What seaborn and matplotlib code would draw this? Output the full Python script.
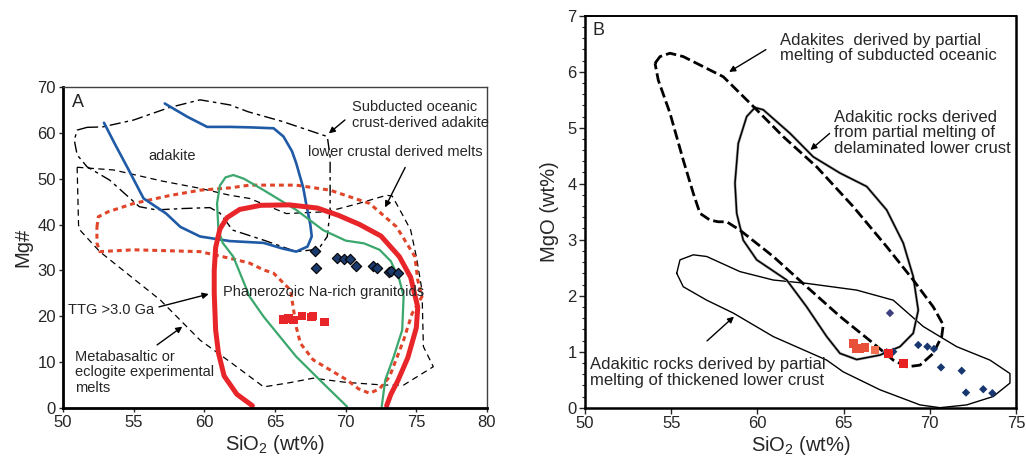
import matplotlib
matplotlib.use('Agg')
import matplotlib.pyplot as plt
import seaborn as sns
import pandas as pd
from matplotlib.ticker import MultipleLocator

####### PANEL A  (SiO2 vs Mg#)

subducted_x = [51.7, 52.8, 55.0, 57.5, 59.7, 61.8, 63.1, 65.5, 68.7, 68.9, 68.9, 68.7, 68.2, 67.7, 66.5,
               64.2, 63.1, 62.0, 61.1, 60.4, 58.5, 56.6, 55.4, 53.3, 51.7, 51.0, 50.8, 51.0, 51.7]
subducted_y = [61.2, 61.3, 62.8, 65.5, 67.2, 66.1, 64.6, 62.5, 59.2, 54.8, 43.2, 37.4, 35.2, 34.5, 34.1,
               36.6, 37.7, 38.8, 42.5, 43.7, 43.5, 43.2, 43.9, 49.7, 52.6, 55.2, 58.4, 60.6, 61.2]

adakite_x = [57.2, 58.8, 60.2, 61.8, 63.2, 64.9, 65.6, 66.2, 66.5, 67.0, 67.2, 67.5, 67.6, 67.3, 66.5,
             65.5, 64.2, 61.8, 59.7, 58.3, 57.3, 55.7, 54.6, 53.7, 52.9]
adakite_y = [66.4, 63.5, 61.3, 61.3, 61.2, 61.0, 59.2, 56.0, 53.4, 48.0, 44.6, 40.0, 37.4, 35.2, 34.1,
             34.8, 36.0, 36.4, 37.4, 39.5, 42.4, 45.7, 52.2, 57.4, 62.2]

metabasalt_x = [51.0, 53.6, 57.0, 59.7, 61.8, 63.2, 65.8, 68.7, 70.8, 72.9, 73.3, 74.1, 74.6, 75.0, 75.4,
                75.5, 76.2, 74.1, 72.7, 70.0, 67.7, 66.0, 64.2, 61.8, 59.7, 56.9, 52.6, 51.2, 51.1, 51.0]
metabasalt_y = [52.5, 51.9, 49.5, 47.9, 46.4, 45.7, 42.4, 42.8, 44.5, 46.4, 46.2, 41.7, 38.8, 33.0, 25.7,
                13.4, 9.0, 5.0, 5.0, 5.6, 6.5, 5.5, 4.6, 10.1, 14.8, 23.5, 34.1, 38.8, 39.9, 52.5]

lower_crust_x = [52.4, 52.5, 53.2, 55.0, 57.5, 59.7, 61.8, 63.2, 66.5, 68.9, 71.7, 73.6, 74.9, 75.1, 75.4,
                 74.7, 74.1, 73.1, 72.4, 71.7, 70.9, 70.1, 67.7, 66.8, 66.5, 66.1, 64.9, 64.2, 63.2, 62.3,
                 59.7, 55.0, 52.6, 52.4, 52.4]
lower_crust_y = [39.5, 41.7, 42.8, 44.6, 46.3, 47.5, 48.0, 48.6, 48.6, 47.5, 44.6, 39.5, 33.0, 27.9, 24.3,
                 20.6, 14.8, 6.8, 4.2, 3.2, 4.2, 6.1, 10.5, 14.1, 17.7, 25.7, 29.4, 30.1, 31.6, 32.3,
                 34.1, 34.5, 34.1, 36.0, 39.5]

granitoid_x = [63.4, 62.3, 61.4, 61.0, 60.8, 60.7, 60.7, 60.8, 61.1, 61.6, 62.5, 64.0, 66.0, 68.0, 69.5,
               71.0, 72.5, 73.8, 74.6, 75.1, 75.0, 74.4, 73.7, 73.2, 72.9]
granitoid_y = [0.5, 3.0, 7.0, 12.0, 17.0, 25.0, 30.0, 35.0, 39.0, 41.5, 43.3, 44.2, 44.3, 43.6, 42.0,
               40.0, 37.5, 33.0, 28.5, 22.0, 17.5, 11.0, 6.0, 3.0, 0.5]

green_x = [70.1, 68.4, 66.5, 64.2, 63.2, 62.05, 61.3, 61.0, 60.9, 61.1, 61.5, 62.05, 62.8, 64.2, 66.5,
           68.4, 70.0, 71.3, 72.4, 73.2, 73.8, 74.1, 74.0, 73.4, 72.8, 72.55]
green_y = [0.3, 5.4, 11.2, 19.9, 24.3, 33.0, 36.0, 38.8, 44.6, 48.5, 50.3, 50.8, 50.0, 47.5, 43.2,
           38.8, 36.5, 35.9, 34.5, 32.0, 28.0, 24.3, 17.0, 11.2, 6.1, 0.3]

samples_a_x = [67.8, 67.9, 69.4, 69.9, 70.3, 70.7, 71.9, 72.2, 73.1, 73.2, 73.7]
samples_a_y = [34.3, 30.5, 32.8, 32.6, 32.5, 31.0, 31.0, 30.5, 29.6, 29.9, 29.5]

squares_a_x = [65.6, 65.95, 66.3, 66.9, 67.6, 67.7, 68.5]
squares_a_y = [19.3, 19.5, 19.2, 20.1, 19.8, 20.1, 18.8]

####### PANEL B  (SiO2 vs MgO)

oceanic_x = [54.06, 54.35, 54.93, 55.70, 58.02, 59.76, 61.50, 63.44, 65.56, 67.50, 69.04, 70.20, 70.78,
             70.69, 70.20, 69.43, 68.66, 67.88, 66.72, 64.79, 62.86, 60.92, 58.99, 58.22, 57.73, 57.25,
             56.67, 56.28, 55.70, 54.93, 54.25, 54.06]
oceanic_y = [6.15, 6.27, 6.33, 6.27, 5.91, 5.38, 4.84, 4.30, 3.59, 2.875, 2.28, 1.80, 1.48,
             1.27, 0.97, 0.76, 0.73, 0.85, 1.15, 1.63, 2.16, 2.70, 3.17, 3.32, 3.32, 3.35,
             3.47, 3.83, 4.42, 5.26, 5.85, 6.15]

delaminated_x = [59.86, 60.34, 61.89, 63.24, 64.79, 66.34, 67.50, 68.46, 69.04, 69.33, 69.04, 68.27, 67.11,
                 65.76, 64.79, 64.02, 62.86, 61.70, 59.96, 59.18, 58.80, 58.70, 58.89, 59.38, 59.86]
delaminated_y = [5.36, 5.32, 4.90, 4.48, 4.19, 3.95, 3.53, 2.94, 2.34, 1.74, 1.33, 1.09, 0.94,
                 0.86, 0.97, 1.27, 1.80, 2.28, 2.64, 2.99, 3.47, 4.01, 4.72, 5.20, 5.36]

thickened_x = [55.32, 55.51, 56.28, 57.06, 58.99, 60.92, 62.86, 65.76, 67.88, 69.62, 71.56, 73.49, 74.65,
               74.65, 73.68, 72.14, 70.59, 69.43, 67.11, 64.98, 64.02, 60.92, 58.60, 57.06, 55.70, 55.32]
thickened_y = [2.40, 2.64, 2.73, 2.70, 2.43, 2.28, 2.22, 2.10, 1.92, 1.45, 1.09, 0.85, 0.61,
               0.44, 0.20, 0.05, 0.00, 0.05, 0.32, 0.64, 0.85, 1.27, 1.69, 1.92, 2.16, 2.40]

samples_b_x = [67.69, 69.33, 69.86, 70.24, 70.65, 71.85, 72.10, 73.10, 73.63, 67.88, 67.50]
samples_b_y = [1.69, 1.12, 1.09, 1.05, 0.72, 0.66, 0.27, 0.33, 0.26, 1.00, 0.99]
samples_b_col = ['#3E3F7E'] + ['#17376E'] * 10

squares_b_x = [65.56, 65.95, 66.24, 65.76, 66.82, 67.59, 68.46]
squares_b_y = [1.15, 1.06, 1.08, 1.06, 1.03, 0.97, 0.79]
squares_b_col = ['#E8503A', '#E8503A', '#E8503A', '#E8503A', '#F07050', '#E82020', '#E82020']

sns.set_style('ticks')
plt.rcParams['font.family'] = ['Liberation Sans', 'DejaVu Sans']
plt.rcParams['mathtext.default'] = 'regular'

fig = plt.figure(figsize=(10.26, 4.57), dpi=100)
axA = fig.add_axes([63 / 1026, 49 / 457, 424 / 1026, 321 / 457])
axB = fig.add_axes([585 / 1026, 49.3 / 457, 431 / 1026, 392 / 457])


def curve(ax, xs, ys, **kw):
    sns.lineplot(x=xs, y=ys, sort=False, estimator=None, ax=ax, **kw)


# panel A fields
curve(axA, metabasalt_x, metabasalt_y, color='black', lw=0.9, linestyle=(0, (5, 3.5)))
curve(axA, subducted_x, subducted_y, color='black', lw=1.0, linestyle=(0, (8, 3, 2.5, 3)))
curve(axA, lower_crust_x, lower_crust_y, color='#E0452A', lw=2.2, linestyle=(0, (1.6, 1.3)))
curve(axA, adakite_x, adakite_y, color='#1F5AA6', lw=1.9)
curve(axA, green_x, green_y, color='#3AA76D', lw=1.6)
curve(axA, granitoid_x, granitoid_y, color='#E8262A', lw=3.6)

sns.scatterplot(x=samples_a_x, y=samples_a_y, marker='D', s=28, color='#1B3A6B',
                edgecolor='black', linewidth=0.8, ax=axA, zorder=5)
sns.scatterplot(x=squares_a_x, y=squares_a_y, marker='s', s=38, color='#E8262A',
                edgecolor='none', ax=axA, zorder=5)

axA.set_xlim(50, 80)
axA.set_ylim(0, 70)
axA.xaxis.set_major_locator(MultipleLocator(5))
axA.yaxis.set_major_locator(MultipleLocator(10))
axA.tick_params(direction='out', length=3, width=1, labelsize=12, pad=2)
for side in ['left', 'bottom']:
    axA.spines[side].set_linewidth(2)
    axA.spines[side].set_color('black')
for side in ['top', 'right']:
    axA.spines[side].set_linewidth(1)
    axA.spines[side].set_color('#404040')
axA.set_xlabel('SiO$_2$ (wt%)', fontsize=14.5, labelpad=2)
axA.set_ylabel('Mg#', fontsize=14.5, labelpad=4)

arrow = dict(arrowstyle='-|>', color='black', lw=1, mutation_scale=9)
fsA = 10.5
axA.text(50.64, 66.7, 'A', fontsize=13, va='center')
axA.text(57.7, 54.9, 'adakite', fontsize=fsA, ha='center', va='center')
axA.text(70.43, 63.9, 'Subducted oceanic\ncrust-derived adakite', fontsize=fsA, va='center', linespacing=1.15)
axA.annotate('', xy=(68.66, 59.5), xytext=(70.1, 63.2), arrowprops=arrow)
axA.text(67.3, 55.9, 'lower crustal derived melts', fontsize=fsA, va='center')
axA.annotate('', xy=(72.7, 43.2), xytext=(74.3, 53.0), arrowprops=arrow)
axA.text(61.3, 25.4, 'Phanerozoic Na-rich granitoids', fontsize=fsA, va='center')
axA.text(50.37, 21.4, 'TTG >3.0 Ga', fontsize=fsA, va='center')
axA.annotate('', xy=(60.5, 25.0), xytext=(56.6, 21.9), arrowprops=arrow)
axA.text(50.85, 7.8, 'Metabasaltic or\neclogite experimental\nmelts', fontsize=fsA, va='center',
         linespacing=1.15)
axA.annotate('', xy=(58.6, 18.1), xytext=(56.5, 13.4), arrowprops=arrow)

# panel B fields
curve(axB, thickened_x, thickened_y, color='black', lw=1.0)
curve(axB, delaminated_x, delaminated_y, color='#A8A8A8', lw=2.0)
curve(axB, delaminated_x, delaminated_y, color='black', lw=1.1)
curve(axB, oceanic_x, oceanic_y, color='black', lw=2.0, linestyle=(0, (3.8, 1.5)))

sns.scatterplot(x=samples_b_x, y=samples_b_y, marker='D', s=18, hue=list(range(len(samples_b_x))),
                palette=samples_b_col, edgecolor='none', legend=False, ax=axB, zorder=5)
sns.scatterplot(x=squares_b_x, y=squares_b_y, marker='s', s=40, hue=list(range(len(squares_b_x))),
                palette=squares_b_col, edgecolor='none', legend=False, ax=axB, zorder=6)

axB.set_xlim(50, 75)
axB.set_ylim(0, 7)
axB.xaxis.set_major_locator(MultipleLocator(5))
axB.yaxis.set_major_locator(MultipleLocator(1))
axB.yaxis.set_minor_locator(MultipleLocator(0.2))
axB.tick_params(which='major', direction='out', length=4, width=1, labelsize=12, pad=2)
axB.tick_params(which='minor', axis='y', direction='out', length=2.5, width=0.8)
for side in ['left', 'bottom', 'right']:
    axB.spines[side].set_linewidth(1.8)
    axB.spines[side].set_color('black')
axB.spines['top'].set_linewidth(1.4)
axB.spines['top'].set_color('black')
axB.set_xlabel('SiO$_2$ (wt%)', fontsize=14.5, labelpad=2)
axB.set_ylabel('MgO (wt%)', fontsize=14.5, labelpad=6)

fsB = 12
axB.text(50.46, 6.73, 'B', fontsize=13, va='center')
axB.text(61.31, 6.42, 'Adakites  derived by partial\nmelting of subducted oceanic', fontsize=fsB,
         va='center', linespacing=1.05)
axB.annotate('', xy=(58.22, 5.97), xytext=(60.63, 6.42), arrowprops=arrow)
axB.text(64.46, 4.91, 'Adakitic rocks derived\nfrom partial melting of\ndelaminated lower crust', fontsize=fsB,
         va='center', linespacing=1.05)
axB.annotate('', xy=(62.95, 4.57), xytext=(64.31, 4.93), arrowprops=arrow)
axB.text(50.29, 0.625, 'Adakitic rocks derived by partial\nmelting of thickened lower crust', fontsize=fsB,
         va='center', linespacing=1.05)
axB.annotate('', xy=(58.76, 1.66), xytext=(56.96, 1.16), arrowprops=arrow)

fig.savefig('out.png', dpi=100)
